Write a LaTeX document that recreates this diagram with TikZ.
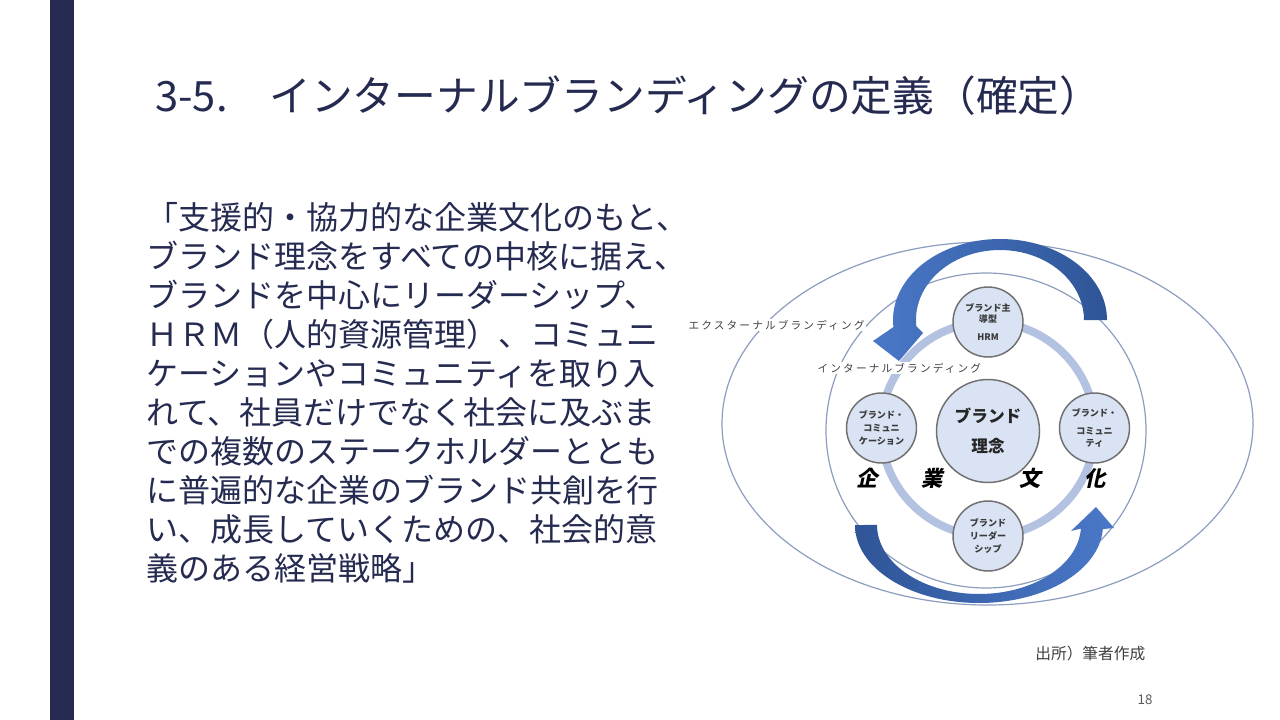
\documentclass[tikz,border=0pt]{standalone}
\usepackage{fontspec}
\setmainfont{Noto Sans CJK JP}
\newfontfamily\jplab{Noto Sans CJK JP}[LetterSpace=20]
\newfontfamily\kigyo{Noto Sans CJK JP}[FakeSlant=0.22]
\definecolor{navy}{HTML}{262A51}
\definecolor{txtnavy}{HTML}{252A50}
\definecolor{ellc}{HTML}{8C9DBF}
\definecolor{ringc}{HTML}{B4C2E2}
\definecolor{cfill}{HTML}{DAE3F3}
\definecolor{cdraw}{HTML}{707070}
\definecolor{arrdark}{HTML}{2F5597}
\definecolor{arrlight}{HTML}{4A78C8}
\definecolor{labgray}{HTML}{404040}
\definecolor{ctext}{HTML}{3A3A3A}
\begin{document}
\begin{tikzpicture}[x=0.75pt,y=-0.75pt,
  body/.style={anchor=base west, inner sep=0pt, text=txtnavy, font=\fontsize{24}{28}\selectfont},
  ringlab/.style={anchor=west, fill=white, inner sep=1pt, text=labgray, font=\jplab\fontsize{8}{9}\selectfont},
  smallc/.style={circle, draw=cdraw, fill=cfill, line width=1.1pt, minimum size=52.5pt, inner sep=0pt, align=center, text=ctext},
  bigc/.style={circle, draw=cdraw, fill=cfill, line width=1.1pt, minimum size=77.25pt, inner sep=0pt, align=center, text=black!85},
  kanji/.style={inner sep=0pt, text=black, font=\kigyo\bfseries\fontsize{16}{16}\selectfont},
  ellline/.style={draw=ellc, line width=0.9pt}]
\useasboundingbox (0,0) rectangle (1280,720);
\fill[white] (0,0) rectangle (1280,720);
\fill[navy] (50,0) rectangle (74,720);

% title
\node[anchor=base west, inner sep=0pt, text=txtnavy, font=\fontsize{31.3}{36}\selectfont] (title) at (155,112) {3-5.　インターナルブランディングの定義（確定）};

% body text
\node[body] (b1) at (146,229) {「支援的・協力的な企業文化のもと、};
\node[body] (b2) at (146,268) {ブランド理念をすべての中核に据え、};
\node[body] (b3) at (146,307) {ブランドを中心にリーダーシップ、};
\node[body] (b4) at (146,346) {ＨＲＭ（人的資源管理）、コミュニ};
\node[body] (b5) at (146,385) {ケーションやコミュニティを取り入};
\node[body] (b6) at (146,424) {れて、社員だけでなく社会に及ぶま};
\node[body] (b7) at (146,463) {での複数のステークホルダーととも};
\node[body] (b8) at (146,502) {に普遍的な企業のブランド共創を行};
\node[body] (b9) at (146,541) {い、成長していくための、社会的意};
\node[body] (b10) at (146,580) {義のある経営戦略」};

% ellipses
\path[ellline] (987.5,423.5) ellipse [x radius=265.5, y radius=181.5];
\path[ellline] (986,430.5) ellipse [x radius=160, y radius=157.5];

% ring
\draw[ringc, line width=6pt] (988,429) circle [radius=107];

% ring labels
\node[ringlab] (ext) at (687,325) {エクスターナルブランディング};
\node[ringlab] (int) at (816,368) {インターナルブランディング};

% big arrows
\shade[left color=arrlight, right color=arrdark]
  (1107,320) arc[start angle=0, end angle=-185, x radius=107, y radius=81]
  -- (873,341) -- (899,361) -- (923,333) -- (916.3,326.1)
  arc[start angle=-185, end angle=0, x radius=84, y radius=70] -- cycle;
\shade[left color=arrdark, right color=arrlight]
  (855,525) arc[start angle=180, end angle=3, x radius=124, y radius=78]
  -- (1114,528) -- (1096,507) -- (1071,531) -- (1080.9,528.6)
  arc[start angle=3, end angle=180, x radius=102, y radius=69] -- cycle;

% circles
\node[bigc, font=\bfseries\fontsize{12.5}{23}\selectfont] (core) at (988,431) {ブランド\\理念};
\node[smallc, font=\bfseries\fontsize{6.8}{8.3}\selectfont] (hrm) at (988,322) {ブランド主\\導型\\[5pt]HRM};
\node[smallc, font=\bfseries\fontsize{6.8}{10}\selectfont] (comm) at (881.5,428) {ブランド・\\コミュニ\\ケーション};
\node[smallc, font=\bfseries\fontsize{6.8}{9}\selectfont] (cmty) at (1094.5,428) {ブランド・\\[5pt]コミュニ\\ティ};
\node[smallc, font=\bfseries\fontsize{6.8}{9.75}\selectfont] (lead) at (988,536) {ブランド\\リーダー\\シップ};

% corporate culture
\node[kanji] (k1) at (867,478) {企};
\node[kanji] (k2) at (932,478) {業};
\node[kanji] (k3) at (1030,478) {文};
\node[kanji] (k4) at (1095,478) {化};

% footer
\node[anchor=base west, inner sep=0pt, text=labgray, font=\fontsize{11.8}{14}\selectfont] (src) at (1035,659) {出所）筆者作成};
\node[inner sep=0pt, text=black!65, font=\fontsize{10}{12}\selectfont] (pg) at (1145,700) {18};
\end{tikzpicture}
\end{document}
